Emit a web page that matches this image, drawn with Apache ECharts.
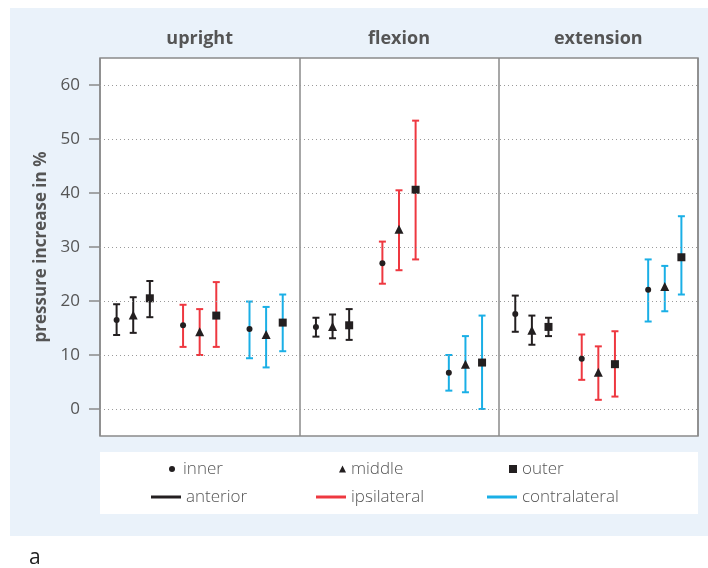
<!DOCTYPE html>
<html>
<head>
<meta charset="utf-8">
<script src="https://cdn.jsdelivr.net/npm/echarts@6/dist/echarts.min.js"></script>
<style>
html,body{margin:0;padding:0;background:#fff;}
#chart{width:708px;height:568px;}
</style>
</head>
<body>
<div id="chart"></div>
<script>
// ---- data ----
const postures = ['upright', 'flexion', 'extension'];
const groups = ['anterior', 'ipsilateral', 'contralateral'];
const positions = ['inner', 'middle', 'outer'];
const yTicks = [0, 10, 20, 30, 40, 50, 60];

// values per posture (upright, flexion, extension) x position (inner, middle, outer)
const anteriorMean = [[16.5, 17.4, 20.5], [15.2, 15.3, 15.5], [17.6, 14.6, 15.2]];
const anteriorLow  = [[13.7, 14.1, 17.0], [13.4, 13.1, 12.8], [14.3, 11.9, 13.5]];
const anteriorHigh = [[19.4, 20.7, 23.7], [16.9, 17.5, 18.5], [21.0, 17.3, 16.9]];

const ipsilateralMean = [[15.5, 14.3, 17.3], [27.0, 33.3, 40.6], [9.3, 6.8, 8.3]];
const ipsilateralLow  = [[11.5, 10.0, 11.5], [23.2, 25.7, 27.7], [5.4, 1.7, 2.3]];
const ipsilateralHigh = [[19.3, 18.5, 23.5], [31.0, 40.5, 53.4], [13.8, 11.6, 14.4]];

const contralateralMean = [[14.8, 13.8, 16.0], [6.7, 8.3, 8.6], [22.1, 22.7, 28.1]];
const contralateralLow  = [[9.4, 7.7, 10.7], [3.4, 3.1, 0.0], [16.2, 18.1, 21.2]];
const contralateralHigh = [[19.9, 18.9, 21.2], [10.0, 13.5, 17.3], [27.7, 26.5, 35.7]];

// ---- build ----
const groupColors = ['#231F20', '#EE3840', '#1AAFE6'];
const markerSymbols = ['circle', 'triangle', 'rect'];
const markerSizes = [6, 9, 8];
const means = [anteriorMean, ipsilateralMean, contralateralMean];
const lows = [anteriorLow, ipsilateralLow, contralateralLow];
const highs = [anteriorHigh, ipsilateralHigh, contralateralHigh];

function slot(p, g, k) { return p * 12 + g * 4 + k + 1; }

const series = [];
groups.forEach(function (gName, g) {
  const data = [];
  postures.forEach(function (_, p) {
    positions.forEach(function (_, k) {
      data.push([slot(p, g, k), lows[g][p][k], highs[g][p][k]]);
    });
  });
  series.push({
    name: gName,
    type: 'custom',
    color: groupColors[g],
    renderItem: function (params, api) {
      const x = api.value(0);
      const lo = api.coord([x, api.value(1)]);
      const hi = api.coord([x, api.value(2)]);
      const w = 3.5;
      const style = { stroke: groupColors[g], lineWidth: 2 };
      return {
        type: 'group',
        children: [
          { type: 'line', shape: { x1: lo[0], y1: lo[1], x2: hi[0], y2: hi[1] }, style: style },
          { type: 'line', shape: { x1: hi[0] - w, y1: hi[1], x2: hi[0] + w, y2: hi[1] }, style: style },
          { type: 'line', shape: { x1: lo[0] - w, y1: lo[1], x2: lo[0] + w, y2: lo[1] }, style: style }
        ]
      };
    },
    encode: { x: 0, y: [1, 2] },
    data: data,
    z: 3,
    silent: true
  });
});

positions.forEach(function (posName, k) {
  const data = [];
  postures.forEach(function (_, p) {
    groups.forEach(function (_, g) {
      data.push([slot(p, g, k), means[g][p][k]]);
    });
  });
  series.push({
    name: posName,
    type: 'scatter',
    symbol: markerSymbols[k],
    symbolSize: markerSizes[k],
    itemStyle: { color: '#231F20', opacity: 1 },
    data: data,
    z: 4,
    silent: true
  });
});

// dotted horizontal grid lines at tick values
series.push({
  type: 'scatter',
  data: [],
  silent: true,
  markLine: {
    symbol: 'none',
    silent: true,
    label: { show: false },
    lineStyle: { color: '#9a9a9a', type: [1, 3], width: 1 },
    data: yTicks.map(function (v) { return { yAxis: v }; })
  },
  z: 1
});

const font = 'Open Sans';
const legendText = { fontFamily: font, fontSize: 17, color: '#555', fontWeight: 300, lineHeight: 20 };
function legendItem(name, icon, w, h, left, top) {
  return {
    left: left, top: top,
    orient: 'horizontal',
    padding: 0,
    itemWidth: w, itemHeight: h,
    itemGap: 0,
    selectedMode: false,
    textStyle: legendText,
    data: [{ name: name, icon: icon }]
  };
}

const option = {
  animation: false,
  backgroundColor: '#ffffff',
  textStyle: { fontFamily: font },
  graphic: [
    { type: 'rect', shape: { x: 10, y: 8, width: 698, height: 528 }, style: { fill: '#EAF2FA' }, z: -10, silent: true },
    { type: 'rect', shape: { x: 100, y: 452, width: 598, height: 62 }, style: { fill: '#ffffff' }, z: -9, silent: true },
    { type: 'text', left: 29, top: 548, style: { text: 'a', fontFamily: font, fontSize: 21, fill: '#222' }, silent: true }
  ],
  legend: [
    legendItem('inner', 'circle', 12, 6, 169, 459),
    legendItem('middle', 'triangle', 7, 7, 339, 459),
    legendItem('outer', 'rect', 8, 8, 509, 459),
    legendItem('anterior', 'rect', 30, 3, 151, 487),
    legendItem('ipsilateral', 'rect', 30, 3, 316, 487),
    legendItem('contralateral', 'rect', 30, 3, 487, 487)
  ],
  grid: {
    left: 100, top: 58, width: 598, height: 378,
    show: true, backgroundColor: '#ffffff', borderColor: '#8a8a8a', borderWidth: 1.5
  },
  xAxis: [
    {
      type: 'value', min: 0, max: 36, interval: 12,
      axisLine: { show: false }, axisTick: { show: false }, axisLabel: { show: false },
      splitLine: { show: true, lineStyle: { color: '#8a8a8a', width: 1.5 } }
    },
    {
      type: 'category', position: 'top', data: postures, boundaryGap: true,
      axisLine: { show: false }, axisTick: { show: false },
      axisLabel: { fontFamily: font, fontSize: 18, fontWeight: 'bold', color: '#555', margin: 10 },
      splitLine: { show: false }
    }
  ],
  yAxis: {
    type: 'value', min: -5, max: 65,
    name: 'pressure increase in %',
    nameLocation: 'middle', nameGap: 50,
    nameTextStyle: { fontFamily: font, fontSize: 17, fontWeight: 'bold', color: '#555' },
    axisLine: { show: false },
    axisTick: { show: true, inside: false, length: 11, customValues: yTicks, lineStyle: { color: '#8a8a8a', width: 1.5 } },
    axisLabel: { customValues: yTicks, fontFamily: font, fontSize: 17, color: '#555', margin: 20 },
    splitLine: { show: false }
  },
  series: series
};

const chart = echarts.init(document.getElementById('chart'), null, { renderer: 'canvas' });
chart.setOption(option);
</script>
</body>
</html>
